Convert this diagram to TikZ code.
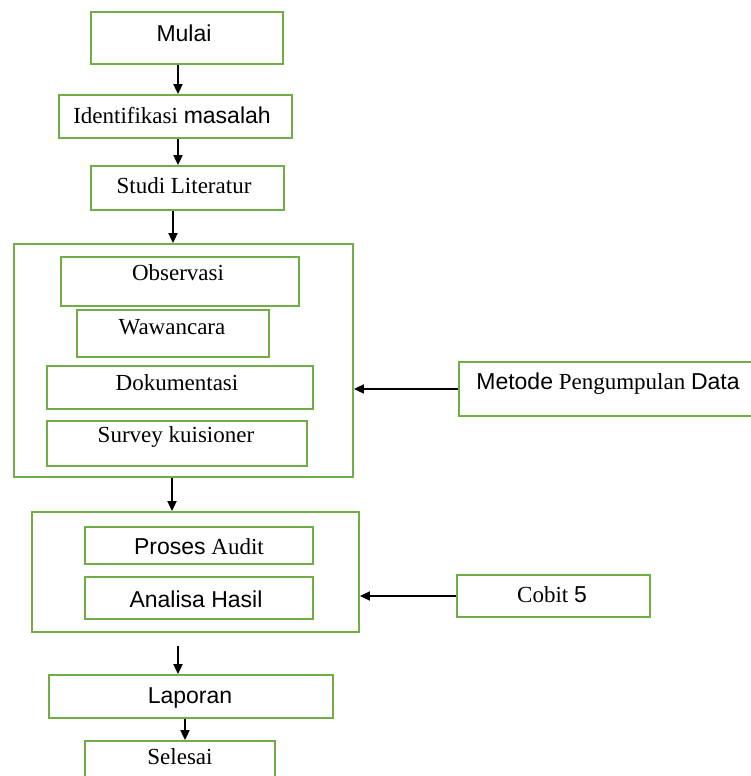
\documentclass[tikz,border=0pt]{standalone}
\usepackage{fontspec}
\setmainfont{Liberation Serif}
\newfontfamily\sansf{Liberation Sans}
\usetikzlibrary{arrows.meta}
\definecolor{boxgreen}{RGB}{112,173,71}
\tikzset{
  gbox/.style={draw=boxgreen, line width=1.8pt, rectangle, inner sep=0pt},
  lbl/.style={inner sep=0pt, font=\fontsize{23}{26}\selectfont},
  arr/.style={draw=black, line width=1.8pt, -{Triangle[length=10pt,width=9pt]}}
}
\begin{document}
\begin{tikzpicture}[x=1pt,y=-1pt]
\useasboundingbox (0,0) rectangle (751,776);
\clip (0,0) rectangle (751,776);
\fill[white] (0,0) rectangle (751,776);
% boxes
\node[gbox, minimum width=192pt, minimum height=52pt] (mulai) at (187,38) {};
\node[gbox, minimum width=233pt, minimum height=43pt] (ident) at (175.5,116.5) {};
\node[gbox, minimum width=193pt, minimum height=44pt] (studi) at (187.5,188) {};
\node[gbox, minimum width=339pt, minimum height=233pt] (pengumpulan) at (183.5,360.5) {};
\node[gbox, minimum width=238pt, minimum height=49pt] (obs) at (180,281.5) {};
\node[gbox, minimum width=192pt, minimum height=47pt] (waw) at (173,333.5) {};
\node[gbox, minimum width=266pt, minimum height=43pt] (dok) at (180,387.5) {};
\node[gbox, minimum width=260pt, minimum height=45pt] (surv) at (177,443.5) {};
\node[gbox, minimum width=327pt, minimum height=120pt] (audit) at (195.5,572) {};
\node[gbox, minimum width=228pt, minimum height=37pt] (proses) at (199,545.5) {};
\node[gbox, minimum width=228pt, minimum height=42pt] (analisa) at (199,598) {};
\node[gbox, minimum width=284pt, minimum height=43pt] (laporan) at (191,696.5) {};
\node[gbox, minimum width=190pt, minimum height=49pt] (selesai) at (180,765.5) {};
\node[gbox, minimum width=301pt, minimum height=54pt] (metode) at (609.5,389) {};
\node[gbox, minimum width=193pt, minimum height=42pt] (cobit) at (553.5,596) {};
% labels
\node[lbl] (tmulai) at (184,33) {\sansf Mulai};
\node[lbl] (tident) at (172,115) {Identifikasi {\sansf masalah}};
\node[lbl] (tstudi) at (184,186) {Studi Literatur};
\node[lbl] (tobs) at (178,273) {Observasi};
\node[lbl] (twaw) at (172,327) {Wawancara};
\node[lbl] (tdok) at (177,383) {Dokumentasi};
\node[lbl] (tsurv) at (176,437) {Survey kuisioner};
\node[lbl] (tproses) at (199,547) {{\sansf Proses} Audit};
\node[lbl] (tanalisa) at (196,599) {\sansf Analisa Hasil};
\node[lbl] (tlaporan) at (190,698) {\sansf Laporan};
\node[lbl] (tselesai) at (180,757) {Selesai};
\node[lbl] (tmetode) at (608,384) {{\sansf Metode} Pengumpulan {\sansf Data}};
\node[lbl] (tcobit) at (552,595) {Cobit {\sansf 5}};
% connector x positions
\coordinate (c1) at (178,0);
\coordinate (c3) at (173,0);
\coordinate (c4) at (172,0);
\coordinate (c5) at (178,646);
\coordinate (c6) at (185,0);
\draw[arr] (mulai.south -| c1) -- (ident.north -| c1);
\draw[arr] (ident.south -| c1) -- (studi.north -| c1);
\draw[arr] (studi.south -| c3) -- (pengumpulan.north -| c3);
\draw[arr] (pengumpulan.south -| c4) -- (audit.north -| c4);
\draw[arr] (c5) -- (laporan.north -| c5);
\draw[arr] (laporan.south -| c6) -- (selesai.north -| c6);
\draw[arr] (metode.west) -- (pengumpulan.east |- metode.west);
\draw[arr] (cobit.west) -- (audit.east |- cobit.west);
\end{tikzpicture}
\end{document}
